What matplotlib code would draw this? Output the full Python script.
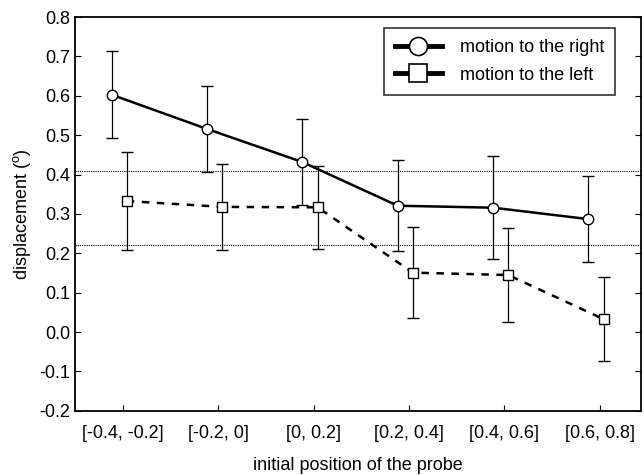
"""Displacement vs initial probe position, rightward vs leftward motion."""

import matplotlib.pyplot as plt
from matplotlib.lines import Line2D
import numpy as np

plt.rcParams["font.family"] = ["Liberation Sans Narrow", "Liberation Sans", "DejaVu Sans"]

categories = ["[-0.4, -0.2]", "[-0.2, 0]", "[0, 0.2]", "[0.2, 0.4]", "[0.4, 0.6]", "[0.6, 0.8]"]
right_mean = [0.603, 0.516, 0.432, 0.321, 0.316, 0.287]
right_err = [0.110, 0.110, 0.110, 0.115, 0.130, 0.110]
left_mean = [0.333, 0.318, 0.317, 0.151, 0.145, 0.033]
left_err = [0.125, 0.110, 0.105, 0.115, 0.120, 0.107]
ref_lines = [0.41, 0.22]
yticks = [-0.2, -0.1, 0.0, 0.1, 0.2, 0.3, 0.4, 0.5, 0.6, 0.7, 0.8]

x = np.arange(len(categories))

fig = plt.figure(figsize=(6.44, 4.75), dpi=100)
ax = fig.add_axes([0.117, 0.135, 0.878, 0.829])

for y in ref_lines:
    ax.axhline(y, color="black", linestyle=(0, (1, 1)), linewidth=0.8, zorder=1)

ax.errorbar(
    x - 0.12, right_mean, yerr=right_err,
    color="black", linewidth=1.8, marker="o", markersize=7.5,
    markerfacecolor="white", markeredgecolor="black", markeredgewidth=1.0,
    ecolor="black", elinewidth=0.9, capsize=4, capthick=0.9, zorder=3,
)
ax.errorbar(
    x + 0.04, left_mean, yerr=left_err,
    color="black", linewidth=1.8, linestyle=(0, (3, 3)), marker="s", markersize=7,
    markerfacecolor="white", markeredgecolor="black", markeredgewidth=1.0,
    ecolor="black", elinewidth=0.9, capsize=4, capthick=0.9, zorder=3,
)

ax.set_xlim(-0.5, 5.43)
ax.set_ylim(-0.2, 0.8)
ax.set_xticks(x)
ax.set_xticklabels(categories, fontsize=13)
ax.set_yticks(yticks)
ax.set_yticklabels([f"{v:.1f}" for v in yticks], fontsize=13)
ax.tick_params(direction="in", length=4, width=0.8, right=True)
ax.tick_params(axis="x", pad=10)
ax.set_xlabel("initial position of the probe", fontsize=13, labelpad=11)
ax.set_ylabel(r"displacement ($\mathregular{^o}$)", fontsize=13, labelpad=5)
for spine in ax.spines.values():
    spine.set_linewidth(1.3)

handles = [
    Line2D([], [], color="black", linewidth=3.5, marker="o", markersize=13,
           markerfacecolor="white", markeredgecolor="black", markeredgewidth=1.2),
    Line2D([], [], color="black", linewidth=3.5, marker="s", markersize=13,
           markerfacecolor="white", markeredgecolor="black", markeredgewidth=1.2),
]
leg = ax.legend(
    handles, ["motion to the right", "motion to the left"],
    loc="upper right", bbox_to_anchor=(0.97, 0.995), fontsize=13,
    handlelength=2.6, handletextpad=1.0, frameon=True, fancybox=False,
    edgecolor="black", borderpad=0.6, labelspacing=0.6,
)
leg.get_frame().set_linewidth(1.2)

fig.savefig("out.png", dpi=100)
